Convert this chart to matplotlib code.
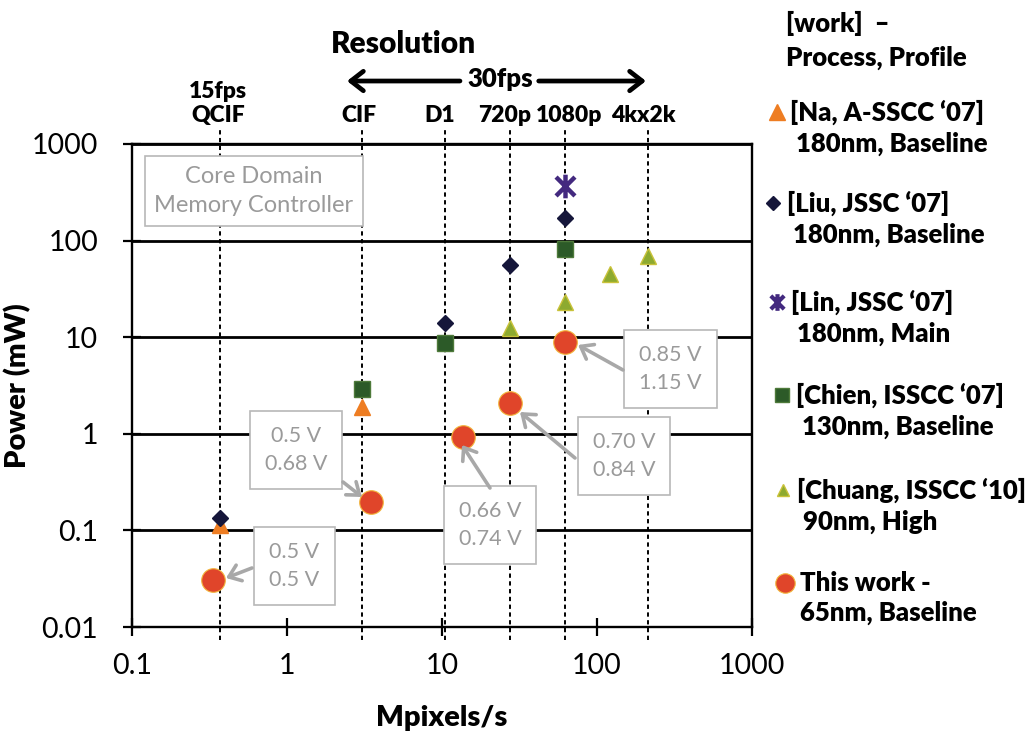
import matplotlib
matplotlib.use('Agg')
import matplotlib.pyplot as plt
from matplotlib.path import Path
from matplotlib.lines import Line2D
from matplotlib.ticker import FixedLocator, NullLocator, FixedFormatter
import matplotlib.transforms as mtransforms

plt.rcParams['font.family'] = ['Lato', 'DejaVu Sans']

# ---------------- data ----------------
res_names = ['15fps\nQCIF', 'CIF', 'D1', '720p', '1080p', '4kx2k']
res_x = [0.37, 3.04, 10.4, 27.6, 62.2, 212]

na_x = [0.37, 3.04]
na_y = [0.114, 1.9]
liu_x = [0.37, 10.4, 27.6, 62.2]
liu_y = [0.135, 13.9, 55.6, 171]
lin_x = [62.2]
lin_y = [367]
chien_x = [3.04, 10.4, 62.2]
chien_y = [2.94, 8.8, 81]
chuang_x = [27.6, 62.2, 121, 212]
chuang_y = [12.6, 23, 44.8, 68.9]
this_x = [0.335, 3.5, 13.7, 27.6, 62.2]
this_y = [0.0307, 0.198, 0.935, 2.1, 9.0]
this_labels = ['0.5 V\n0.5 V', '0.5 V\n0.68 V', '0.66 V\n0.74 V',
               '0.70 V\n0.84 V', '0.85 V\n1.15 V']

xticks = [0.1, 1, 10, 100, 1000]
xticklabels = ['0.1', '1', '10', '100', '1000']
yticks = [0.01, 0.1, 1, 10, 100, 1000]
yticklabels = ['0.01', '0.1', '1', '10', '100', '1000']

legend_labels = ["[Na, A-SSCC \u201807]\n 180nm, Baseline",
                 "[Liu, JSSC \u201807]\n 180nm, Baseline",
                 "[Lin, JSSC \u201807]\n 180nm, Main",
                 "[Chien, ISSCC \u201807]\n 130nm, Baseline",
                 "[Chuang, ISSCC \u201810]\n 90nm, High",
                 "This work -\n65nm, Baseline"]

# ---------------- styles ----------------
c_na = '#EE7D22'
c_liu = '#15163A'
c_lin = '#43297F'
c_chien = '#2C5A28'
c_chuang = '#8DAA30'
c_this = '#E0452A'
gray_txt = '#9A9A9A'
gray_box = '#B8B8B8'
gray_arrow = '#A8A8A8'
BOLD = 'heavy'

star = Path([(-1, -1), (1, 1), (-1, 1), (1, -1), (0, -1.25), (0, 1.25)],
            [Path.MOVETO, Path.LINETO, Path.MOVETO, Path.LINETO,
             Path.MOVETO, Path.LINETO])

W, H = 1032, 734
fig = plt.figure(figsize=(W / 100, H / 100), dpi=100)
ax = fig.add_axes([132 / W, 1 - 627 / H, 620 / W, 483 / H])
ax.set_xscale('log')
ax.set_yscale('log')
ax.set_xlim(0.1, 1000)
ax.set_ylim(0.01, 1000)

ax.xaxis.set_major_locator(FixedLocator(xticks))
ax.xaxis.set_major_formatter(FixedFormatter(xticklabels))
ax.yaxis.set_major_locator(FixedLocator(yticks))
ax.yaxis.set_major_formatter(FixedFormatter(yticklabels))
ax.xaxis.set_minor_locator(NullLocator())
ax.yaxis.set_minor_locator(NullLocator())

for s in ax.spines.values():
    s.set_linewidth(1.7)
    s.set_color('black')
ax.tick_params(axis='both', which='major', direction='inout', length=13,
               width=1.6, labelsize=20.5, colors='black')
ax.tick_params(axis='y', pad=18)
ax.tick_params(axis='x', pad=12)
ax.grid(axis='y', which='major', color='black', lw=2.0)
ax.set_axisbelow(True)

ax.set_xlabel('Mpixels/s', fontsize=21, fontweight=BOLD, labelpad=19)
ax.set_ylabel('Power (mW)', fontsize=21, fontweight=BOLD, labelpad=0)

# resolution dashed lines + labels
label_x = [0.36, 2.93, 9.6, 25.3, 66.5, 200]
trans_top = mtransforms.blended_transform_factory(ax.transData, ax.transAxes)
for xv in res_x:
    ax.axvline(xv, ymin=-0.027, ymax=1.033, color='black', lw=1.4,
               ls=(0, (2.2, 1.8)), clip_on=False, zorder=1)
for name, lx in zip(res_names, label_x):
    parts = name.split('\n')
    ax.text(lx, 1.058, parts[-1], transform=trans_top,
            ha='center', va='center', fontsize=16.5, fontweight=BOLD)
    if len(parts) > 1:
        ax.text(lx, 1.108, parts[0], transform=trans_top,
                ha='center', va='center', fontsize=16.5, fontweight=BOLD)

ax.text(0.437, 1.207, 'Resolution', transform=ax.transAxes, ha='center',
        va='center', fontsize=21.5, fontweight=BOLD)
ax.text(0.5935, 1.134, '30fps', transform=ax.transAxes, ha='center',
        va='center', fontsize=18.5, fontweight=BOLD)
for tail, head in [((0.5290, 1.1304), (0.3468, 1.1304)),
                   ((0.6560, 1.1304), (0.8290, 1.1304))]:
    ax.annotate('', xy=head, xytext=tail, xycoords='axes fraction',
                textcoords='axes fraction',
                arrowprops=dict(arrowstyle='->,head_length=0.45,head_width=0.35',
                                lw=3.4, color='black', mutation_scale=20,
                                shrinkA=0, shrinkB=0))

# Core domain box
ax.text(0.1968, 0.9027, 'Core Domain\nMemory Controller', transform=ax.transAxes,
        ha='center', va='center', fontsize=17, color=gray_txt, linespacing=1.45,
        bbox=dict(boxstyle='square,pad=0.42', fc='white', ec=gray_box, lw=1.2),
        zorder=5)

# ---------------- data markers ----------------
ax.plot(na_x, na_y, ls='none', marker='^', ms=12, color=c_na, mec=c_na, zorder=6)
ax.plot(liu_x, liu_y, ls='none', marker='D', ms=8.5, color=c_liu, mec=c_liu, zorder=7)
ax.plot(lin_x, lin_y, ls='none', marker=star, ms=17, mew=3.2, color=c_lin, zorder=7)
ax.plot(chien_x, chien_y, ls='none', marker='s', ms=11, color=c_chien,
        mec='#4E7A3A', mew=1.0, zorder=6)
ax.plot(chuang_x, chuang_y, ls='none', marker='^', ms=11, color=c_chuang,
        mec='#C9C23A', mew=1.0, zorder=6)
ax.plot(this_x, this_y, ls='none', marker='o', ms=17, color=c_this,
        mec='#F2B63C', mew=0.8, zorder=8)

# ---------------- voltage annotations ----------------
box_pos = [(0.2621, 0.1263), (0.2645, 0.3665), (0.5774, 0.2112),
           (0.7935, 0.3540), (0.8685, 0.5342)]
arrow_tail = [(0.1935, 0.1222), (0.3403, 0.3002), (0.5774, 0.2878),
              (0.7145, 0.3499), (0.7919, 0.5321)]
arrow_tip = [(0.1516, 0.1014), (0.3710, 0.2692), (0.5323, 0.3768),
             (0.6258, 0.4451), (0.7194, 0.5839)]
for lab, bp, at, ah in zip(this_labels, box_pos, arrow_tail, arrow_tip):
    ax.text(bp[0], bp[1], lab, transform=ax.transAxes, ha='center', va='center',
            fontsize=15.5, color=gray_txt, linespacing=1.5,
            bbox=dict(boxstyle='square,pad=0.7', fc='white', ec=gray_box, lw=1.2),
            zorder=9)
    ax.annotate('', xy=ah, xytext=at, xycoords='axes fraction',
                textcoords='axes fraction',
                arrowprops=dict(arrowstyle='->,head_length=0.4,head_width=0.3',
                                lw=2.6, color=gray_arrow, mutation_scale=20,
                                shrinkA=0, shrinkB=0), zorder=9)

# ---------------- legend (manual) ----------------
fig.text(786 / W, 1 - 23 / H, '[work]  \u2013', fontsize=18.5, fontweight=BOLD,
         ha='left', va='center')
fig.text(786 / W, 1 - 58 / H, 'Process, Profile', fontsize=18.5, fontweight=BOLD,
         ha='left', va='center')

leg_marker = [dict(marker='^', ms=12, color=c_na, mec=c_na),
              dict(marker='D', ms=7, color=c_liu, mec=c_liu),
              dict(marker=star, ms=12, mew=3, color=c_lin),
              dict(marker='s', ms=10, color=c_chien, mec='#4E7A3A'),
              dict(marker='^', ms=9, color=c_chuang, mec='#C9C23A'),
              dict(marker='o', ms=14, color=c_this, mec='#F2B63C', mew=0.8)]
leg_mx = [777, 773, 777, 782, 783, 785]
leg_y1 = [112, 203, 302, 395, 490, 583]
leg_tx = [790, 787, 791, 796, 797, 800]
for lab, mk, mx, y1, tx in zip(legend_labels, leg_marker, leg_mx, leg_y1, leg_tx):
    fig.add_artist(Line2D([mx / W], [1 - y1 / H], ls='none',
                          transform=fig.transFigure, **mk))
    fig.text(tx / W, 1 - (y1 - 12) / H, lab, fontsize=18.5, fontweight=BOLD,
             ha='left', va='top', linespacing=1.3)

fig.savefig('out.png', dpi=100)
